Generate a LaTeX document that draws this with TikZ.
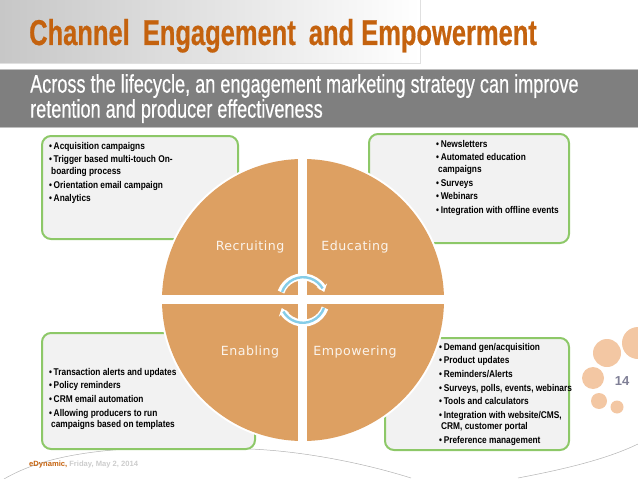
\documentclass[tikz,border=0pt]{standalone}
\usepackage{fontspec}
\setmainfont{Liberation Sans}
\newfontfamily\titlefont[FakeStretch=0.71,FakeBold=0.5]{Liberation Sans}
\newfontfamily\bandfont[FakeStretch=0.71,FakeBold=0.4]{Liberation Sans}
\newfontfamily\boxfont[FakeStretch=0.85]{Liberation Sans}
\newfontfamily\wheelfont[LetterSpace=4]{DejaVu Sans}
\usetikzlibrary{arrows.meta}
\definecolor{bandgrey}{HTML}{7F7F7F}
\definecolor{titleorange}{HTML}{C4620E}
\definecolor{boxgreen}{HTML}{8DC868}
\definecolor{boxfill}{HTML}{F2F2F2}
\definecolor{wheeltan}{HTML}{DDA062}
\definecolor{cycleblue}{HTML}{86CDE8}
\definecolor{dotpeach}{HTML}{F3C7A3}
\definecolor{pagenum}{HTML}{7F7F96}
\newcommand{\itm}[1]{\textbullet\,#1}
\tikzset{
    greenbox/.style={draw=boxgreen, line width=2pt, fill=boxfill, rounded corners=9pt},
    boxtext/.style={anchor=north west, inner sep=0pt, align=left, font=\fontsize{9.8}{11.6}\selectfont\boxfont\bfseries, text=black},
    wheellabel/.style={font=\fontsize{12.6}{15}\selectfont\wheelfont, text=white!88!wheeltan, inner sep=0pt},
    cyclewhite/.style={draw=white, line width=7pt},
    cycleline/.style={draw=cycleblue, line width=2.4pt},
}
\begin{document}
\begin{tikzpicture}[x=1pt, y=-1pt]
    \useasboundingbox (0,0) rectangle (638,479);
    \shade[left color=black!22, right color=white, draw=none] (0,0) rectangle (420,63);
    \draw[black!12, line width=0.5pt] (420,0) -- (420,63) -- (0,63);
    \node[anchor=base west, inner sep=0pt, text=titleorange, font=\fontsize{35.9}{40}\selectfont\titlefont\bfseries] (title) at (29,45) {Channel\, Engagement\, and Empowerment};
    \fill[bandgrey] (0,69) rectangle (638,127);
    \draw[black!25, line width=0.6pt] (0,69) -- (638,69) (0,127) -- (638,127);
    \node[anchor=north west, inner sep=0pt, align=left, text=white, font=\fontsize{25.5}{25}\selectfont\bandfont] (subtitle) at (30,74) {Across the lifecycle, an engagement marketing strategy can improve\\retention and producer effectiveness};

    \foreach \x/\y/\r in {607/353/14, 593/378/11, 599/401/8, 617/407/6.5, 638/343/16}
        \fill[dotpeach] (\x,\y) circle[radius=\r pt];
    \draw[black!30, line width=0.5pt] (4,479) .. controls (40,458) and (85,452) .. (125,449);
    \draw[black!30, line width=0.5pt] (250,449) .. controls (300,451) and (360,462) .. (411,478);
    \draw[black!30, line width=0.5pt] (518,478) .. controls (560,470) and (605,460) .. (638,444);
    \node[text=pagenum, inner sep=0pt, font=\fontsize{13}{15}\selectfont\bfseries] (pagenumber) at (622,381) {14};
    \node[anchor=base west, inner sep=0pt, font=\fontsize{7.6}{10}\selectfont\bfseries] (footer) at (29,466) {\textcolor{titleorange}{eDynamic,} \textcolor{black!20}{Friday, May 2, 2014}};

    \draw[greenbox] (42,136) rectangle (238,239);
    \draw[greenbox] (369,134) rectangle (569,243);
    \draw[greenbox] (42,333) rectangle (255,449);
    \draw[greenbox] (385,338) rectangle (569,450);

    \node[boxtext] (recruitlist) at (49,142) {\itm{Acquisition campaigns}\\[2pt]\itm{Trigger based multi-touch On-}\\\hspace*{2pt}boarding process\\[2pt]\itm{Orientation email campaign}\\[2pt]\itm{Analytics}};
    \node[boxtext] (educatelist) at (436,140) {\itm{Newsletters}\\[2pt]\itm{Automated education}\\\hspace*{2pt}campaigns\\[2pt]\itm{Surveys}\\[2pt]\itm{Webinars}\\[2pt]\itm{Integration with offline events}};
    \node[boxtext] (enablelist) at (49,368) {\itm{Transaction alerts and updates}\\[2pt]\itm{Policy reminders}\\[2pt]\itm{CRM email automation}\\[2pt]\itm{Allowing producers to run}\\\hspace*{2pt}campaigns based on templates};
    \node[boxtext] (empowerlist) at (439,343) {\itm{Demand gen/acquisition}\\[2pt]\itm{Product updates}\\[2pt]\itm{Reminders/Alerts}\\[2pt]\itm{Surveys, polls, events, webinars}\\[2pt]\itm{Tools and calculators}\\[2pt]\itm{Integration with website/CMS,}\\\hspace*{2pt}CRM, customer portal\\[2pt]\itm{Preference management}};

    \fill[white] (303,300) circle[radius=143pt];
    \fill[wheeltan] (303,300) circle[radius=141pt];
    \fill[white] (298,155) rectangle (307,445);
    \fill[white] (158,295) rectangle (448,304);
    \node[wheellabel] (recruiting) at (250,247) {Recruiting};
    \node[wheellabel] (educating) at (355,247) {Educating};
    \node[wheellabel] (enabling) at (250,352) {Enabling};
    \node[wheellabel] (empowering) at (355,352) {Empowering};

    \draw[cyclewhite, -{Stealth[length=7pt, width=11pt]}] (281,292) arc[start angle=160, end angle=20, radius=23pt];
    \draw[cyclewhite, -{Stealth[length=7pt, width=11pt]}] (325,308) arc[start angle=-20, end angle=-160, radius=23pt];
    \draw[cycleline] (282,292) arc[start angle=160, end angle=30, radius=22.5pt];
    \draw[cycleline] (324,308) arc[start angle=-20, end angle=-150, radius=22.5pt];
\end{tikzpicture}
\end{document}
